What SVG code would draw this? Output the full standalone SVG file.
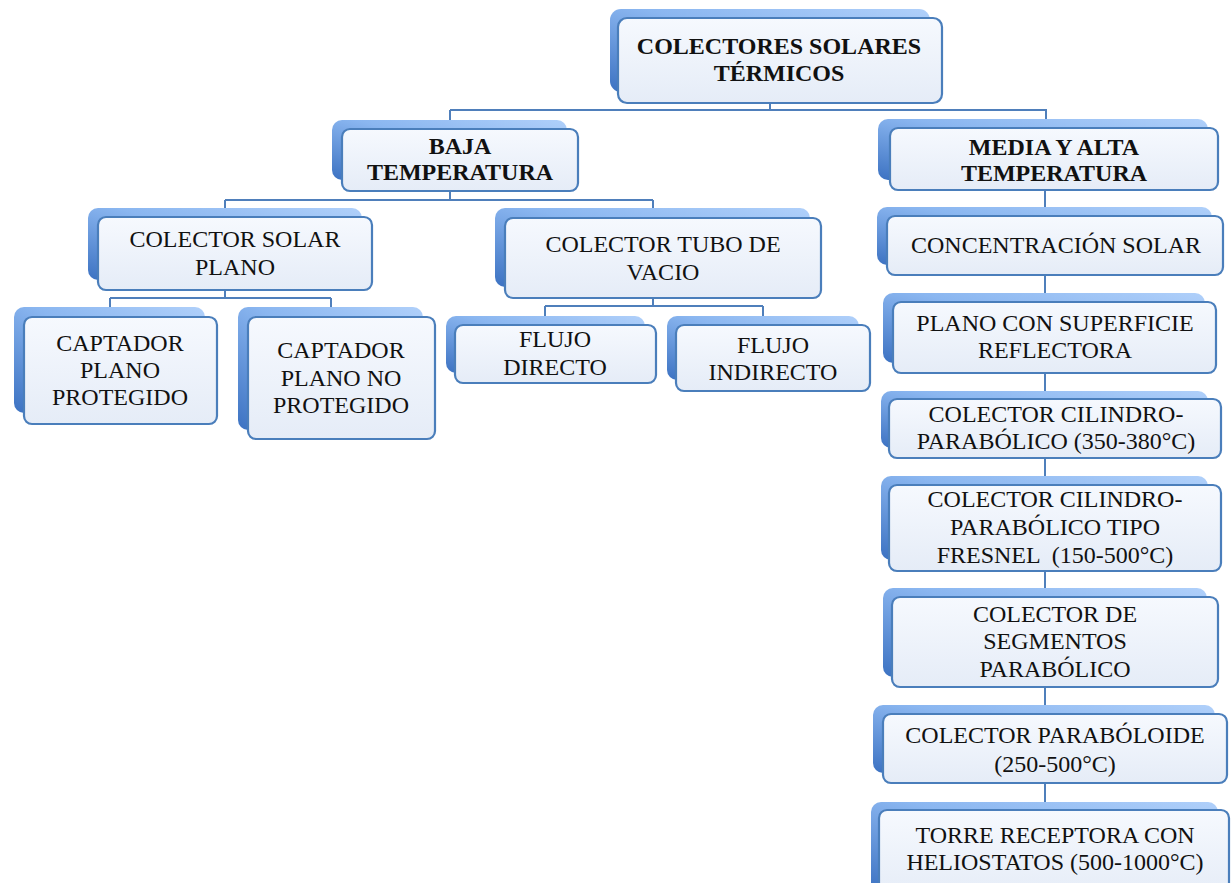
<svg xmlns="http://www.w3.org/2000/svg" width="1232" height="883" viewBox="0 0 1232 883">
  <style>
    .back { fill: url(#backGrad); }
    .front { fill: url(#frontGrad); stroke: #4a7ebb; stroke-width: 2.2; }
    .lbl { font-family: "Liberation Serif", "Times New Roman", serif; font-size: 24px; fill: #111; text-anchor: middle; }
    .bold { font-weight: bold; }
    .conn { fill: none; stroke: #4f7fbb; stroke-width: 2; }
  </style>
  <defs>
    <linearGradient id="backGrad" x1="1" y1="0" x2="0" y2="1">
      <stop offset="0" stop-color="#b0d0fa"/>
      <stop offset="0.45" stop-color="#8ab6f0"/>
      <stop offset="1" stop-color="#3c72c2"/>
    </linearGradient>
    <linearGradient id="frontGrad" x1="0" y1="0" x2="0" y2="1">
      <stop offset="0" stop-color="#f6f9fe"/>
      <stop offset="1" stop-color="#e5ecf7"/>
    </linearGradient>
  </defs>

  <rect width="1232" height="883" fill="#ffffff"/>

  <!-- connectors -->
  <g id="connectors">
    <path class="conn" d="M770 102 V110 M450 110 H1047 M450 110 V129 M1046 110 V128"/>
    <path class="conn" d="M450 191 V200 M225 200 H653 M225 200 V217 M653 200 V218"/>
    <path class="conn" d="M225 290 V298 M110 298 H331 M110 298 V317 M331 298 V317"/>
    <path class="conn" d="M653 298 V306 M545 306 H763 M545 306 V325 M763 306 V325"/>
    <path class="conn" d="M1045 190 V810"/>
  </g>

  <!-- root -->
  <g id="n-root">
    <rect class="back" x="610" y="9" width="320" height="83" rx="11"/>
    <rect class="front" x="618" y="18" width="324" height="85" rx="9"/>
    <text class="lbl bold" x="779" y="54" font-size="25">COLECTORES SOLARES</text>
    <text class="lbl bold" x="779" y="81" font-size="25">TÉRMICOS</text>
  </g>

  <g id="n-baja">
    <rect class="back" x="332" y="120" width="235" height="60" rx="10"/>
    <rect class="front" x="342" y="129" width="236" height="62" rx="8"/>
    <text class="lbl bold" x="460" y="154">BAJA</text>
    <text class="lbl bold" x="460" y="180">TEMPERATURA</text>
  </g>

  <g id="n-media">
    <rect class="back" x="878" y="119" width="330" height="61" rx="10"/>
    <rect class="front" x="890" y="128" width="328" height="62" rx="8"/>
    <text class="lbl bold" x="1054" y="155">MEDIA Y ALTA</text>
    <text class="lbl bold" x="1054" y="181">TEMPERATURA</text>
  </g>

  <g id="n-plano">
    <rect class="back" x="88" y="208" width="274" height="72" rx="10"/>
    <rect class="front" x="98" y="217" width="274" height="73" rx="8"/>
    <text class="lbl" x="235" y="247">COLECTOR SOLAR</text>
    <text class="lbl" x="235" y="275">PLANO</text>
  </g>

  <g id="n-vacio">
    <rect class="back" x="495" y="208" width="315" height="79" rx="10"/>
    <rect class="front" x="505" y="218" width="316" height="80" rx="8"/>
    <text class="lbl" x="663" y="252">COLECTOR TUBO DE</text>
    <text class="lbl" x="663" y="280">VACIO</text>
  </g>

  <g id="n-protegido">
    <rect class="back" x="14" y="307" width="191" height="106" rx="10"/>
    <rect class="front" x="24" y="317" width="193" height="107" rx="8"/>
    <text class="lbl" x="120" y="351">CAPTADOR</text>
    <text class="lbl" x="120" y="378">PLANO</text>
    <text class="lbl" x="120" y="405">PROTEGIDO</text>
  </g>

  <g id="n-noprotegido">
    <rect class="back" x="238" y="307" width="185" height="123" rx="10"/>
    <rect class="front" x="248" y="317" width="187" height="122" rx="8"/>
    <text class="lbl" x="341" y="358">CAPTADOR</text>
    <text class="lbl" x="341" y="386">PLANO NO</text>
    <text class="lbl" x="341" y="413">PROTEGIDO</text>
  </g>

  <g id="n-directo">
    <rect class="back" x="446" y="316" width="199" height="57" rx="10"/>
    <rect class="front" x="455" y="325" width="201" height="58" rx="8"/>
    <text class="lbl" x="555" y="347">FLUJO</text>
    <text class="lbl" x="555" y="375">DIRECTO</text>
  </g>

  <g id="n-indirecto">
    <rect class="back" x="667" y="316" width="192" height="64" rx="10"/>
    <rect class="front" x="676" y="325" width="194" height="66" rx="8"/>
    <text class="lbl" x="773" y="353">FLUJO</text>
    <text class="lbl" x="773" y="380">INDIRECTO</text>
  </g>

  <g id="n-concentracion">
    <rect class="back" x="877" y="207" width="335" height="58" rx="10"/>
    <rect class="front" x="887" y="216" width="336" height="59" rx="8"/>
    <text class="lbl" x="1056" y="253">CONCENTRACIÓN SOLAR</text>
  </g>

  <g id="n-reflectora">
    <rect class="back" x="883" y="293" width="322" height="70" rx="10"/>
    <rect class="front" x="893" y="302" width="323" height="71" rx="8"/>
    <text class="lbl" x="1055" y="331">PLANO CON SUPERFICIE</text>
    <text class="lbl" x="1055" y="358">REFLECTORA</text>
  </g>

  <g id="n-cilindro">
    <rect class="back" x="881" y="391" width="327" height="57" rx="10"/>
    <rect class="front" x="889" y="399" width="332" height="59" rx="8"/>
    <text class="lbl" x="1056" y="422">COLECTOR CILINDRO-</text>
    <text class="lbl" x="1056" y="449">PARABÓLICO (350-380°C)</text>
  </g>

  <g id="n-fresnel">
    <rect class="back" x="881" y="476" width="327" height="84" rx="10"/>
    <rect class="front" x="889" y="485" width="332" height="86" rx="8"/>
    <text class="lbl" x="1055" y="507">COLECTOR CILINDRO-</text>
    <text class="lbl" x="1055" y="535">PARABÓLICO TIPO</text>
    <text class="lbl" x="1055" y="563" xml:space="preserve">FRESNEL  (150-500°C)</text>
  </g>

  <g id="n-segmentos">
    <rect class="back" x="883" y="588" width="324" height="89" rx="10"/>
    <rect class="front" x="892" y="597" width="326" height="90" rx="8"/>
    <text class="lbl" x="1055" y="622">COLECTOR DE</text>
    <text class="lbl" x="1055" y="649">SEGMENTOS</text>
    <text class="lbl" x="1055" y="677">PARABÓLICO</text>
  </g>

  <g id="n-paraboloide">
    <rect class="back" x="873" y="705" width="342" height="68" rx="10"/>
    <rect class="front" x="883" y="714" width="344" height="69" rx="8"/>
    <text class="lbl" x="1055" y="743">COLECTOR PARABÓLOIDE</text>
    <text class="lbl" x="1055" y="772">(250-500°C)</text>
  </g>

  <g id="n-torre">
    <rect class="back" x="871" y="802" width="347" height="90" rx="10"/>
    <rect class="front" x="879" y="810" width="350" height="90" rx="8"/>
    <text class="lbl" x="1055" y="843">TORRE RECEPTORA CON</text>
    <text class="lbl" x="1055" y="870">HELIOSTATOS (500-1000°C)</text>
  </g>
</svg>
